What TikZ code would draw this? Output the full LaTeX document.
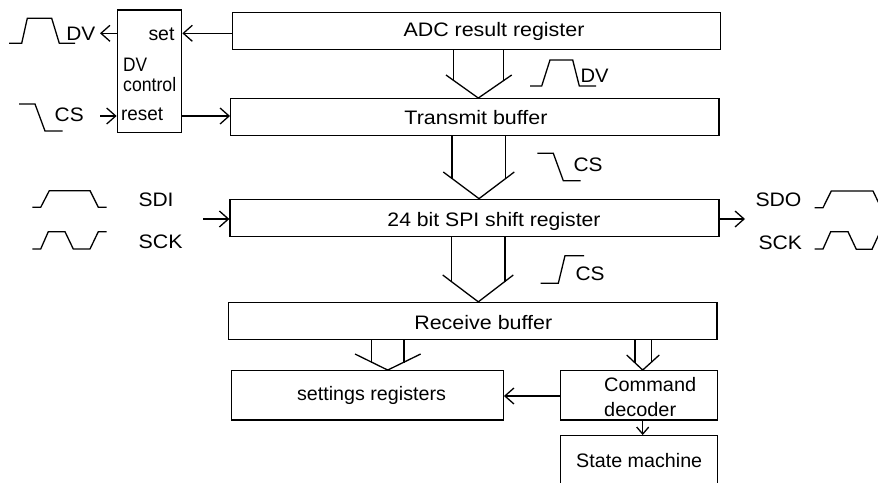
\documentclass[tikz,border=0pt]{standalone}
\usepackage{fontspec}
\usepackage{graphicx}
\setmainfont{Liberation Sans}
\usetikzlibrary{arrows.meta}
\newcommand{\fw}[2]{\resizebox{#1pt}{\height}{#2}}
\begin{document}
\begin{tikzpicture}[x=1pt,y=-1pt,
  ln/.style={line width=1.3pt, line join=miter},
  box/.style={draw, line width=1.3pt, inner sep=0pt},
  txt/.style={inner sep=0pt, font=\fontsize{19.5}{23}\selectfont},
  arr/.style={ln, -{Straight Barb[length=9pt,width=16pt]}},
  sarr/.style={ln, -{Straight Barb[length=7pt,width=12pt]}},
  wave/.style={line width=1.3pt, line join=miter}]
\useasboundingbox (0,0) rectangle (878,482);

% boxes
\node[box, minimum width=488.4pt, minimum height=36.6pt] (adc) at (476.5,31) {};
\node[box, minimum width=488.3pt, minimum height=36.6pt] (tx) at (474.85,117) {};
\node[box, minimum width=489pt, minimum height=37.4pt] (spi) at (474.5,218) {};
\node[box, minimum width=488.7pt, minimum height=36.8pt] (rx) at (472.65,320.9) {};
\node[box, minimum width=271.6pt, minimum height=49.3pt] (settings) at (367.5,395.35) {};
\node[box, minimum width=156.6pt, minimum height=49.3pt] (cmd) at (639,395.35) {};
\node[box, minimum width=156.6pt, minimum height=68.6pt] (sm) at (639,470) {};
\node[box, minimum width=64.4pt, minimum height=122.7pt] (dvc) at (149.5,71.35) {};

% box texts
\node[txt, anchor=base] (tadc) at (494,36) {\fw{181}{ADC result register}};
\node[txt, anchor=base] (ttx) at (476,124) {\fw{143}{Transmit buffer}};
\node[txt, anchor=base] (tspi) at (494,226) {\fw{213}{24 bit SPI shift register}};
\node[txt, anchor=base] (trx) at (483.3,329) {\fw{138}{Receive buffer}};
\node[txt, anchor=base] (tset) at (371.5,400) {\fw{149}{settings registers}};
\node[txt, anchor=base west] (tcmd1) at (604,391.7) {\fw{92}{Command}};
\node[txt, anchor=base west] (tcmd2) at (604,416) {\fw{72}{decoder}};
\node[txt, anchor=base] (tsm) at (639.2,467.7) {\fw{126}{State machine}};
\node[txt, anchor=base] (tsetin) at (161.5,40.5) {\fw{26}{set}};
\node[txt, anchor=base west] (tdv) at (123,71) {\fw{24}{DV}};
\node[txt, anchor=base west] (tctl) at (123,91.7) {\fw{53}{control}};
\node[txt, anchor=base west] (treset) at (121,120.7) {\fw{42}{reset}};

% signal labels
\node[txt, anchor=base] (ldv) at (80.8,40.7) {\fw{29}{DV}};
\node[txt, anchor=base] (lcs) at (69.2,121.7) {\fw{29}{CS}};
\node[txt, anchor=base] (ldv2) at (594.5,82.7) {\fw{28}{DV}};
\node[txt, anchor=base] (lcs2) at (588,171.7) {\fw{29}{CS}};
\node[txt, anchor=base] (lcs3) at (590,280) {\fw{29}{CS}};
\node[txt, anchor=base] (lsdi) at (156,206.7) {\fw{35}{SDI}};
\node[txt, anchor=base] (lsck) at (160.7,248.3) {\fw{44}{SCK}};
\node[txt, anchor=base] (lsdo) at (778.5,206) {\fw{46}{SDO}};
\node[txt, anchor=base] (lsck2) at (780.3,249.3) {\fw{43.5}{SCK}};

% simple arrows
\coordinate (dvout) at (100,33.3);
\coordinate (csin) at (100,116);
\coordinate (sdiin) at (203.3,219);
\coordinate (sdoout) at (745,219);
\draw[arr] (adc.west |- dvout) -- (dvc.east |- dvout);
\draw[arr] (dvc.west |- dvout) -- (dvout);
\draw[arr] (csin) -- (dvc.west |- csin);
\draw[arr] (dvc.east |- csin) -- (tx.west |- csin);
\draw[arr] (sdiin) -- (spi.west |- sdiin);
\draw[arr] (spi.east |- sdoout) -- (sdoout);
\draw[arr] (cmd.west |- 0,396) -- (settings.east |- 0,396);
\draw[sarr] (642.7,0 |- cmd.south) -- (642.7,0 |- sm.north);

% wide arrows
\draw[ln] (453.3,0 |- adc.south) -- (453.3,80.5) (503.3,0 |- adc.south) -- (503.3,80.8);
\draw[ln] (446,75) -- (478.3,0 |- tx.north) -- (511.7,75);

\draw[ln] (452,0 |- tx.south) -- (452,178.7) (505.8,0 |- tx.south) -- (505.8,178.6);
\draw[ln] (443.3,172) -- (479,0 |- spi.north) -- (514.3,172);

\draw[ln] (451.7,0 |- spi.south) -- (451.7,281.9) (505,0 |- spi.south) -- (505,281.5);
\draw[ln] (442.7,275) -- (478.3,0 |- rx.north) -- (513.3,275);

\draw[ln] (371.7,0 |- rx.south) -- (371.7,362.5) (404,0 |- rx.south) -- (404,362.5);
\draw[ln] (355,354) -- (387.7,0 |- settings.north) -- (420.7,354);

\draw[ln] (635,0 |- rx.south) -- (635,363.1) (651.7,0 |- rx.south) -- (651.7,362.2);
\draw[ln] (626.7,355) -- (642.7,0 |- cmd.north) -- (659.3,355);

% waveforms
\draw[wave] (9,43.3) -- (21.7,43.3) -- (27.3,18.3) -- (51.7,18.3) -- (59.3,43.3) -- (75,43.3);
\draw[wave] (530,86) -- (541.7,86) -- (550,60) -- (572.7,60) -- (579.3,86) -- (596,86);
\draw[wave] (19,104) -- (35,104) -- (45,131) -- (62.7,131);
\draw[wave] (537.3,153.3) -- (553.3,153.3) -- (563.3,180.7) -- (580.7,180.7);
\draw[wave] (540.7,283.3) -- (558.3,283.3) -- (565,255.7) -- (584,255.7);
\draw[wave] (32.3,207.3) -- (40.7,207.3) -- (49.3,190.7) -- (90,190.7) -- (98.3,207.3) -- (106.7,207.3);
\draw[wave] (32.3,249) -- (40.7,249) -- (48.3,231.7) -- (65,231.7) -- (73.3,249) -- (90,249) -- (98.3,231.7) -- (106.7,231.7);
\draw[wave] (814.7,207.7) -- (823,207.7) -- (831.3,191) -- (873,191) -- (881,207.7);
\draw[wave] (814.7,249) -- (823,249) -- (830.7,231.7) -- (848,231.7) -- (856.3,249.3) -- (872,249.3) -- (880,232);
\end{tikzpicture}
\end{document}
